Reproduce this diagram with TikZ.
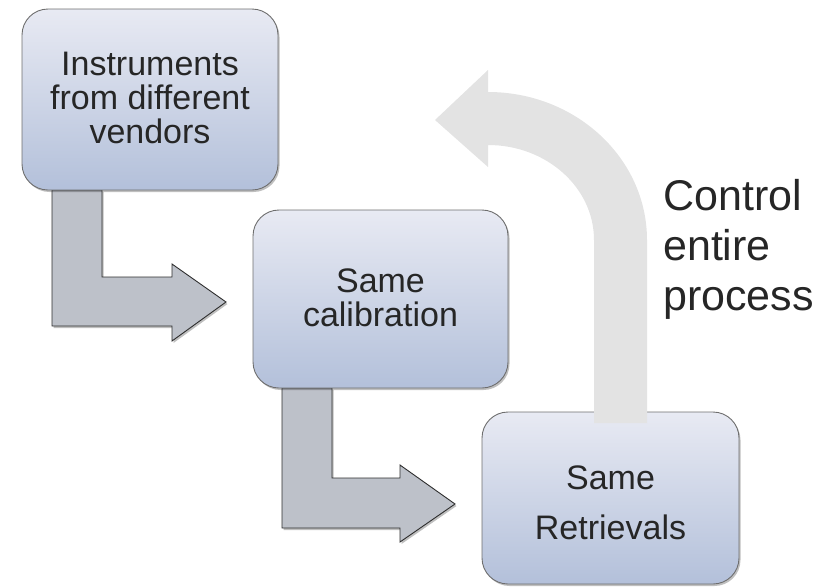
\documentclass[tikz,border=0pt]{standalone}
\usepackage{fontspec}
\setmainfont{Liberation Sans}
\usetikzlibrary{shadows}
\definecolor{boxtop}{HTML}{E8EAF3}
\definecolor{boxbot}{HTML}{B3C0DA}
\definecolor{boxline}{HTML}{6E6E6E}
\definecolor{bendfill}{HTML}{BDC1C9}
\definecolor{bendline}{HTML}{2E2E2E}
\definecolor{loopfill}{HTML}{E3E3E3}
\definecolor{inktext}{HTML}{262626}
\begin{document}
\begin{tikzpicture}[x=1pt,y=-1pt,
  stepbox/.style={draw=boxline,line width=0.9pt,rounded corners=26pt,
    top color=boxtop,bottom color=boxbot,
    drop shadow={shadow xshift=1.5pt,shadow yshift=-2pt,opacity=0.25,fill=black}},
  boxtext/.style={text=inktext,align=center,inner sep=0pt,
    font=\fontsize{34}{34}\selectfont},
  bentarrow/.style={fill=bendfill,draw=bendline,line width=0.9pt,line join=miter,
    drop shadow={shadow xshift=1.5pt,shadow yshift=-2pt,opacity=0.25,fill=black}},
]
\useasboundingbox (0,0) rectangle (830,587);

% bent arrows, drawn first so the boxes sit on top of their stems
\draw[bentarrow] (52,190) -- (52,326) -- (172,326) -- (172,341) -- (226,302)
  -- (172,264) -- (172,277) -- (102,277) -- (102,190) -- cycle;
\draw[bentarrow] (282,388) -- (282,528) -- (400,528) -- (400,542) -- (455,504)
  -- (400,465) -- (400,478) -- (332,478) -- (332,388) -- cycle;

% process boxes
\path[stepbox] (22,9) rectangle (278,190);
\path[stepbox] (253,210) rectangle (508,388);
\path[stepbox] (482,412) rectangle (739,584);

\node[boxtext] (instr) at (150,98) {Instruments\\from different\\vendors};
\node[boxtext] (calib) at (380.5,298) {Same\\calibration};
\node[boxtext,font=\fontsize{34}{50}\selectfont] (retr) at (610.5,503) {Same\\Retrievals};

% curved feedback arrow rising from the last box
\fill[loopfill] (594,423) -- (594,240)
  .. controls (594,187.5) and (546.5,145) .. (488,145)
  -- (488,167) -- (435,120) -- (488,70) -- (488,92)
  .. controls (575.8,92) and (647,158.3) .. (647,240)
  -- (647,423) -- cycle;

\node[text=inktext,align=left,anchor=west,inner sep=0pt,
  font=\fontsize{43}{50}\selectfont] (ctrl) at (663,249) {Control\\entire\\process};
\end{tikzpicture}
\end{document}
